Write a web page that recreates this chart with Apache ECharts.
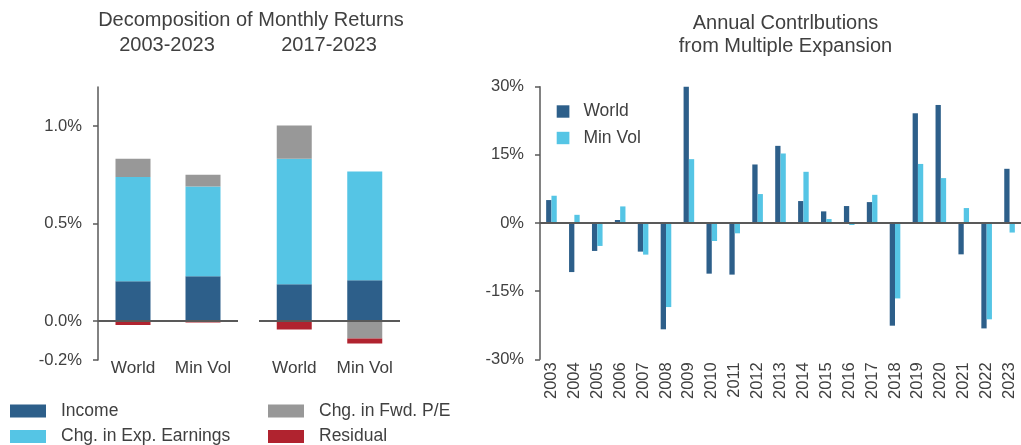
<!DOCTYPE html>
<html>
<head>
<meta charset="utf-8">
<script src="https://cdn.jsdelivr.net/npm/echarts@6/dist/echarts.min.js"></script>
<style>
  html, body { margin: 0; padding: 0; background: #fff; }
  #container { width: 1021px; height: 445px; }
</style>
</head>
<body>
<div id="container"></div>
<script>
'use strict';
// left panel: monthly return decomposition (% per month), [World, Min Vol] per period
var periods = ['2003-2023', '2017-2023'];
var portfolios = ['World', 'Min Vol'];
var income = [[0.204, 0.23], [0.188, 0.209]];
var expEarnings = [[0.534, 0.46], [0.644, 0.558]];
var fwdPE = [[0.094, 0.06], [0.171, -0.09]];
var residual = [[-0.02, -0.008], [-0.044, -0.025]];
var leftTicks = [-0.2, 0, 0.5, 1.0];

// right panel: annual contribution from multiple expansion (%)
var years = ['2003', '2004', '2005', '2006', '2007', '2008', '2009', '2010', '2011', '2012',
  '2013', '2014', '2015', '2016', '2017', '2018', '2019', '2020', '2021', '2022', '2023'];
var worldExp = [5.05, -10.8, -6.15, 0.66, -6.3, -23.4, 30.0, -11.15, -11.36, 12.88,
  16.98, 4.83, 2.56, 3.73, 4.6, -22.6, 24.15, 25.98, -6.9, -23.2, 11.93];
var minVolExp = [6.0, 1.8, -5.05, 3.65, -6.96, -18.5, 14.05, -3.96, -2.27, 6.37,
  15.3, 11.27, 0.87, -0.44, 6.2, -16.6, 13.0, 9.88, 3.29, -21.2, -2.1];

var FONT = '"Liberation Sans", Arial, sans-serif';
var TXT = '#404040';
var AXIS = '#595959';
var C_INCOME = '#2D5F8A';
var C_EARN = '#55C5E5';
var C_PE = '#989898';
var C_RES = '#B0232F';

var dom = document.getElementById('container');
var myChart = echarts.init(dom);

var zeroLine = {
  silent: true,
  symbol: 'none',
  label: { show: false },
  lineStyle: { color: AXIS, width: 2, type: 'solid' },
  data: [{ yAxis: 0 }]
};

var stackParts = [
  { name: 'Income', values: income, color: C_INCOME },
  { name: 'Chg. in Exp. Earnings', values: expEarnings, color: C_EARN },
  { name: 'Chg. in Fwd. P/E', values: fwdPE, color: C_PE },
  { name: 'Residual', values: residual, color: C_RES }
];

var series = [];
periods.forEach(function (p, pi) {
  stackParts.forEach(function (part, k) {
    var s = {
      name: part.name,
      type: 'bar',
      stack: 'p' + pi,
      xAxisIndex: pi,
      yAxisIndex: pi,
      barWidth: 35,
      itemStyle: { color: part.color },
      data: part.values[pi]
    };
    if (k === 0) s.markLine = zeroLine;
    series.push(s);
  });
});

series.push({
  name: 'World', type: 'bar', xAxisIndex: 2, yAxisIndex: 2,
  barWidth: 5.3, barGap: '0%',
  itemStyle: { color: C_INCOME },
  data: worldExp,
  markLine: zeroLine
});
series.push({
  name: 'Min Vol', type: 'bar', xAxisIndex: 2, yAxisIndex: 2,
  barWidth: 5.3, barGap: '0%',
  itemStyle: { color: C_EARN },
  data: minVolExp
});

function catAxis(idx) {
  return {
    type: 'category', gridIndex: idx, data: portfolios,
    axisLine: { show: false }, axisTick: { show: false },
    axisLabel: { color: TXT, fontFamily: FONT, fontSize: 17.2, margin: 0, lineHeight: 17, interval: 0, hideOverlap: false }
  };
}

var legendText = { color: TXT, fontFamily: FONT, fontSize: 17.5, lineHeight: 18 };

function titleText(x, y, text) {
  return { type: 'text', x: x, y: y, style: { text: text, fill: TXT, font: '20px ' + FONT, textAlign: 'center', textVerticalAlign: 'middle' } };
}

var option = {
  animation: false,
  backgroundColor: '#fff',
  textStyle: { fontFamily: FONT },
  graphic: [
    titleText(251, 20, 'Decomposition of Monthly Returns'),
    titleText(167, 45, periods[0]),
    titleText(329, 45, periods[1]),
    titleText(785.5, 23, 'Annual Contrlbutions'),
    titleText(785.5, 46, 'from Multiple Expansion')
  ],
  legend: [
    {
      orient: 'vertical', left: 10, top: 402, height: 80, padding: 0, itemWidth: 36, itemHeight: 13, itemGap: 7.5,
      icon: 'rect', textStyle: Object.assign({ padding: [0, 0, 0, 10] }, legendText),
      data: ['Income', 'Chg. in Exp. Earnings']
    },
    {
      orient: 'vertical', left: 268, top: 402, height: 80, padding: 0, itemWidth: 36, itemHeight: 13, itemGap: 7.5,
      icon: 'rect', textStyle: Object.assign({ padding: [0, 0, 0, 10] }, legendText),
      data: ['Chg. in Fwd. P/E', 'Residual']
    },
    {
      orient: 'vertical', left: 556.7, top: 102.5, padding: 0, itemWidth: 12.7, itemHeight: 12.4, itemGap: 8.5,
      icon: 'rect', textStyle: Object.assign({ padding: [0, 0, 0, 9] }, legendText),
      data: ['World', 'Min Vol']
    }
  ],
  grid: [
    { left: 98, top: 87, width: 140, height: 273 },
    { left: 259, top: 87, width: 141, height: 273 },
    { left: 540, top: 86.7, width: 490, height: 272.6 }
  ],
  xAxis: [
    catAxis(0),
    catAxis(1),
    {
      type: 'category', gridIndex: 2, data: years,
      axisLine: { show: false }, axisTick: { show: false },
      axisLabel: { color: TXT, fontFamily: FONT, fontSize: 16.5, rotate: 90, margin: 3, interval: 0 }
    }
  ],
  yAxis: [
    {
      type: 'value', gridIndex: 0, min: -0.2, max: 1.2,
      splitLine: { show: false },
      axisLine: { show: true, lineStyle: { color: AXIS, width: 1.5 } },
      axisTick: { show: true, length: 5, lineStyle: { color: AXIS, width: 1.5 }, customValues: leftTicks },
      axisLabel: {
        color: TXT, fontFamily: FONT, fontSize: 16.6, margin: 16, customValues: leftTicks,
        formatter: function (v) { return v.toFixed(1) + '%'; }
      }
    },
    {
      type: 'value', gridIndex: 1, min: -0.2, max: 1.2, show: false, splitLine: { show: false }
    },
    {
      type: 'value', gridIndex: 2, min: -30, max: 30, interval: 15,
      splitLine: { show: false },
      axisLine: { show: true, lineStyle: { color: AXIS, width: 1.5 } },
      axisTick: { show: true, length: 5, lineStyle: { color: AXIS, width: 1.5 } },
      axisLabel: { color: TXT, fontFamily: FONT, fontSize: 16.5, margin: 16, formatter: '{value}%' }
    }
  ],
  series: series
};

myChart.setOption(option);
</script>
</body>
</html>
